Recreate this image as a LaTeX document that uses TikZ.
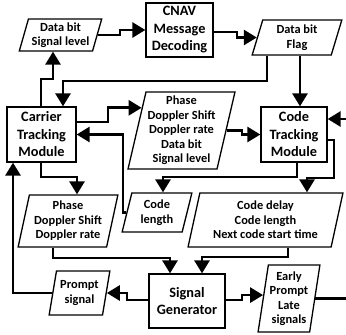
\documentclass[tikz,border=0pt]{standalone}
\usepackage{fontspec}
\setmainfont{Carlito}
\usetikzlibrary{shapes.geometric,arrows.meta,calc}
\begin{document}
\begin{tikzpicture}[x=1pt,y=-1pt,
  box/.style={draw, line width=1.3pt, rectangle, inner sep=0pt, align=center,
    font=\bfseries\fontsize{14.3}{17.5}\selectfont},
  para/.style={draw, line width=1.3pt, trapezium, trapezium left angle=76,
    trapezium right angle=104, trapezium stretches=true, inner sep=0pt,
    align=center, font=\bfseries\fontsize{12.4}{14.5}\selectfont},
  con/.style={line width=2.8pt},
  arr/.style={con, -{Triangle[length=13pt,width=15pt]}}]
\useasboundingbox (0,0) rectangle (346,335);
\fill[white] (0,0) rectangle (346,335);

% rectangles
\node[box, minimum width=67pt, minimum height=54pt] (cnav) at (179.5,30) {CNAV\\Message\\Decoding};
\node[box, minimum width=69pt, minimum height=55pt] (carrier) at (41.5,134.5) {Carrier\\Tracking\\Module};
\node[box, minimum width=66pt, minimum height=55pt] (code) at (294,134.5) {Code\\Tracking\\Module};
\node[box, minimum width=76pt, minimum height=54pt] (sg) at (187,301) {Signal\\Generator};

% parallelograms
\node[para, trapezium left angle=72, trapezium right angle=108, minimum width=83pt, minimum height=32pt] (dsl) at (60.5,35) {Data bit\\Signal level};
\node[para, minimum width=90pt, minimum height=35pt] (dbf) at (297,37.5) {Data bit\\Flag};
\node[para, minimum width=107pt, minimum height=77pt] (mid) at (181.5,130.5) {Phase\\Doppler Shift\\Doppler rate\\Data bit\\Signal level};
\node[para, minimum width=100pt, minimum height=52pt] (bl) at (68,221) {Phase\\Doppler Shift\\Doppler rate};
\node[para, minimum width=70pt, minimum height=39pt] (cl) at (157,212.5) {Code\\length};
\node[para, minimum width=155pt, minimum height=54pt] (cd) at (265.5,220) {Code delay\\Code length\\Next code start time};
\node[para, minimum width=61pt, minimum height=44pt] (ps) at (79.5,293) {Prompt\\signal};
\node[para, trapezium left angle=80, trapezium right angle=100, minimum width=62pt, minimum height=67pt] (epl) at (289,298.5) {Early\\Prompt\\Late\\signals};

% helper points
\coordinate (m1) at ($(mid.bottom left corner)!0.79!(mid.top left corner)$);
\coordinate (e1) at ($(epl.bottom left corner)!0.55!(epl.top left corner)$);
\coordinate (rin) at (346,119);
\coordinate (rout) at (346,297);

% connectors
\draw[arr] (dsl.right side) -| (120,0 |- cnav.west) -- (cnav.west);
\draw[arr] ([yshift=-2pt]cnav.east) -| (237,0 |- dbf.left side) -- (dbf.left side);
\draw[arr] (41,0 |- carrier.north) -- (41,79) -| (53,0 |- dsl.bottom side);
\draw[arr] (267,0 |- dbf.bottom side) -- (267,81) -| (63,0 |- carrier.north);
\draw[arr] (300,0 |- dbf.bottom side) -- (300,0 |- code.north);
\draw[arr] (carrier.east |- 0,122) -- (108,122) -- (108,0 |- m1) -- (m1);
\draw[arr] (cl.left side) -- (123,0 |- cl.left side) -- (123,0 |- carrier.east) -- (carrier.east);
\draw[arr] (mid.right side) -| (242,0 |- code.west) -- (code.west);
\draw[arr] (297,0 |- code.south) -- (297,177) -| (163,0 |- cl.top side);
\draw[arr] (code.east |- 0,140) -- (334,140) -- (334,178) -| (307,0 |- cd.top side);
\draw[arr] (rin) -- (code.east |- rin);
\draw[arr] (41,0 |- carrier.south) -- (41,177) -| (77,0 |- bl.top side);
\draw[arr] (53,0 |- bl.bottom side) -- (53,258) -| (170,0 |- sg.north);
\draw[arr] (288,0 |- cd.bottom side) -- (288,257) -| (202,0 |- sg.north);
\draw[arr] (sg.west |- 0,300) -- (127,300) |- (ps.right side);
\draw[arr] (ps.left side) -| (13,0 |- carrier.south);
\draw[arr] (sg.east |- 0,300) -- (242,300) |- (e1);
\draw[con] (epl.right side) -- (rout |- epl.right side);
\end{tikzpicture}
\end{document}
